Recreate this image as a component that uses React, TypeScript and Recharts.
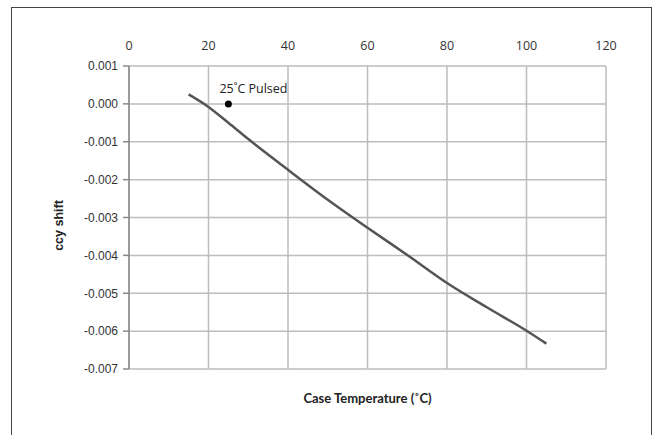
import { ComposedChart, Line, Scatter, XAxis, YAxis, CartesianGrid } from "recharts";

const temperatures = [15, 20, 25, 30, 40, 50, 60, 70, 80, 90, 100, 105];
const ccyShift = [0.00025, -0.00008, -0.0005, -0.00093, -0.00174, -0.00253, -0.00327, -0.00399, -0.00473, -0.00537, -0.00599, -0.00633];

const pulsedTemp = [25];
const pulsedShift = [0];
const pulsedLabel = "25˚C Pulsed";

const xTicks = [0, 20, 40, 60, 80, 100, 120];
const yTicks = [0.001, 0, -0.001, -0.002, -0.003, -0.004, -0.005, -0.006, -0.007];

const curveData = temperatures.map((t, i) => ({ temp: t, shift: ccyShift[i] }));
const pulsedData = pulsedTemp.map((t, i) => ({ temp: t, shift: pulsedShift[i] }));

const PulsedDot = (props: any) => {
  const { cx, cy } = props;
  return (
    <g>
      <circle cx={cx} cy={cy} r={3.5} fill="#000" />
      <text x={cx - 9} y={cy - 11} fontSize={12.5} fill="#222" fontFamily="'Open Sans', sans-serif">
        {pulsedLabel}
      </text>
    </g>
  );
};

const YTitle = (props: any) => {
  const { viewBox } = props;
  const x = viewBox.x - 6;
  const y = viewBox.y + viewBox.height / 2 + 8;
  return (
    <text
      x={x}
      y={y}
      transform={`rotate(-90 ${x} ${y})`}
      textAnchor="middle"
      fontSize={12.5}
      fontWeight="bold"
      fill="#222"
      fontFamily="'Liberation Sans', Arial, sans-serif"
    >
      ccy shift
    </text>
  );
};

const App = () => {
  return (
    <div style={{ position: "absolute", left: 0, top: 0, width: 655, height: 435, overflow: "hidden", background: "#fff" }}>
      <div
        style={{
          position: "absolute",
          left: 11,
          top: 7,
          width: 641,
          height: 450,
          border: "1.5px solid #444",
          boxSizing: "border-box",
        }}
      />
      <div style={{ position: "absolute", left: 0, top: 0 }}>
        <ComposedChart width={655} height={435} margin={{ top: 36, right: 49, bottom: 66, left: 69 }}>
          <CartesianGrid stroke="#bdbdbd" strokeWidth={1.5} />
          <XAxis
            type="number"
            dataKey="temp"
            orientation="top"
            domain={[0, 120]}
            ticks={xTicks}
            height={30}
            axisLine={false}
            tickLine={false}
            tickMargin={10}
            tick={{ fontSize: 12.5, fill: "#333", fontFamily: "'Open Sans', sans-serif" }}
          />
          <YAxis
            type="number"
            dataKey="shift"
            domain={[-0.007, 0.001]}
            ticks={yTicks}
            width={60}
            interval={0}
            axisLine={{ stroke: "#888", strokeWidth: 1.5 }}
            tickLine={{ stroke: "#888", strokeWidth: 1.5 }}
            tickSize={6}
            tickMargin={5}
            tickFormatter={(v: number) => v.toFixed(3)}
            tick={{ fontSize: 12, fill: "#333", fontFamily: "'Liberation Sans', Arial, sans-serif" }}
            label={{ position: "insideLeft", content: YTitle }}
          />
          <Line
            data={curveData}
            dataKey="shift"
            type="monotone"
            stroke="#555"
            strokeWidth={2.5}
            dot={false}
            activeDot={false}
            isAnimationActive={false}
          />
          <Scatter data={pulsedData} dataKey="shift" shape={PulsedDot} isAnimationActive={false} />
        </ComposedChart>
      </div>
      <div
        style={{
          position: "absolute",
          left: 129,
          width: 477,
          top: 390,
          textAlign: "center",
          fontFamily: "Lato, 'Open Sans', sans-serif",
          fontWeight: "bold",
          fontSize: 13,
          color: "#222",
        }}
      >
        Case Temperature (˚C)
      </div>
    </div>
  );
};

export default App;
